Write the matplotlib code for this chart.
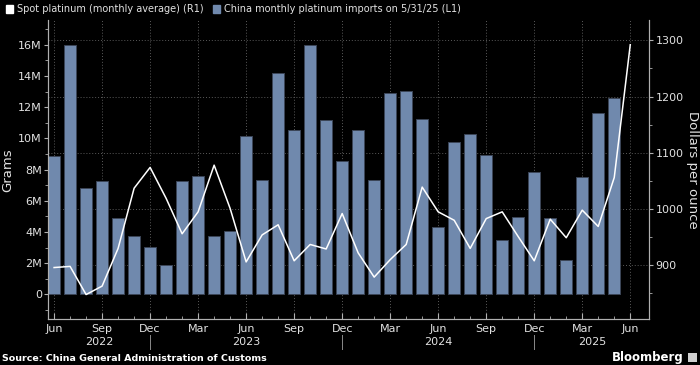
import numpy as np
import pandas as pd
import matplotlib
matplotlib.use('Agg')
import matplotlib.pyplot as plt
from matplotlib.patches import Patch
from matplotlib.lines import Line2D
from matplotlib.transforms import blended_transform_factory

# monthly data, Jun 2022 .. Jun 2025
months = pd.date_range('2022-06-01', '2025-06-01', freq='MS')

# China monthly platinum imports (grams, millions), Jun 2022 .. May 2025
imports_m = [8.87, 15.98, 6.83, 7.27, 4.89, 3.75, 3.03, 1.86, 7.25, 7.57, 3.75, 4.07,
             10.15, 7.32, 14.17, 10.54, 15.96, 11.16, 8.55, 10.52, 7.32, 12.9, 13.03, 11.22,
             4.33, 9.77, 10.26, 8.94, 3.5, 4.97, 7.85, 4.9, 2.2, 7.53, 11.6, 12.59]

# spot platinum monthly average (USD/oz), Jun 2022 .. Jun 2025
spot = [896, 898, 848, 863, 930, 1037, 1074, 1019, 956, 995, 1078, 1001,
        906, 954, 972, 908, 937, 929, 992, 922, 879, 910, 937, 1039,
        995, 980, 930, 983, 995, 951, 908, 982, 949, 998, 969, 1056,
        1292]

left_ticks = [0, 2, 4, 6, 8, 10, 12, 14, 16]
left_labels = ['0', '2M', '4M', '6M', '8M', '10M', '12M', '14M', '16M']
right_ticks = [900, 1000, 1100, 1200, 1300]

BG = 'black'
BAR = '#7089ad'
TXT = '#e2e2e2'
GRID = '#5a5a5a'
SPINE = '#b0b0b0'

W, H = 700, 365
fig = plt.figure(figsize=(W / 100, H / 100), dpi=100, facecolor=BG)

x0, x1, ytop, ybot = 48, 649.3, 20, 319.3
ax = fig.add_axes([x0 / W, 1 - ybot / H, (x1 - x0) / W, (ybot - ytop) / H])
ax.set_facecolor(BG)
ax2 = ax.twinx()

pos = np.arange(len(months))
xlim = (-0.38, 37.19)

ax.bar(pos[:len(imports_m)], imports_m, width=0.73, color=BAR, edgecolor='#3c4658',
       linewidth=0.7, zorder=2)
ax2.plot(pos, spot, color='white', linewidth=1.1, zorder=3)

ax.set_xlim(*xlim)
ax.set_ylim(-1.59, 17.58)
ax2.set_ylim(804, 1336)

# gridlines (drawn behind the bars)
for p in pos[::3]:
    ax.axvline(p, color=GRID, linestyle=(0, (1, 2)), linewidth=0.7, zorder=0)
tr = blended_transform_factory(ax.transAxes, ax2.transData)
for v in right_ticks:
    ax.add_line(Line2D([0, 1], [v, v], transform=tr, color=GRID,
                       linestyle=(0, (1, 2)), linewidth=0.7, zorder=0))

# x axis
ax.set_xticks(pos[::3])
ax.set_xticklabels(months[::3].strftime('%b'))
ax.set_xticks(pos, minor=True)
ax.tick_params(axis='x', which='major', direction='in', length=4, pad=3.5,
               colors=SPINE, labelcolor=TXT, labelsize=8)
ax.tick_params(axis='x', which='minor', direction='in', length=2.5, colors=SPINE)

# year labels + separators
xt = blended_transform_factory(ax.transData, ax.transAxes)
dec = list(pos[months.month == 12])
bounds = [xlim[0]] + dec + [xlim[1]]
years = sorted(set(months.year))
for i, yr in enumerate(years):
    ax.text((bounds[i] + bounds[i + 1]) / 2, -0.075, str(yr), transform=xt,
            ha='center', va='center', color=TXT, fontsize=8, clip_on=False)
for d in dec:
    ax.add_line(Line2D([d, d], [-0.052, -0.099], transform=xt, color='#8a8a8a',
                       linewidth=0.7, clip_on=False))

# y axes
ax.set_yticks(left_ticks)
ax.set_yticklabels(left_labels)
ax.set_yticks(np.arange(-1, 18, 1), minor=True)
ax.tick_params(axis='y', which='major', direction='out', length=3, pad=1.5,
               colors=SPINE, labelcolor=TXT, labelsize=8)
ax.tick_params(axis='y', which='minor', direction='out', length=2, colors=SPINE)

ax2.set_yticks(right_ticks)
ax2.set_yticks(np.arange(850, 1336, 50), minor=True)
ax2.tick_params(axis='y', which='major', direction='out', length=3, pad=1.5,
                colors=SPINE, labelcolor=TXT, labelsize=8)
ax2.tick_params(axis='y', which='minor', direction='out', length=2, colors=SPINE)

for a in (ax, ax2):
    a.spines['top'].set_visible(False)
    for s in ('left', 'right', 'bottom'):
        a.spines[s].set_color(SPINE)
        a.spines[s].set_linewidth(0.8)

fig.text(8 / W, 1 - 170 / H, 'Grams', rotation=90, ha='center', va='center',
         color=TXT, fontsize=9.5)
fig.text(693 / W, 1 - 170 / H, 'Dollars per ounce', rotation=270, ha='center',
         va='center', color=TXT, fontsize=9.5)

# legend
handles = [Patch(facecolor='white', edgecolor='white'),
           Patch(facecolor=BAR, edgecolor=BAR)]
fig.legend(handles, ['Spot platinum (monthly average) (R1)',
                     'China monthly platinum imports on 5/31/25 (L1)'],
           loc='upper left', bbox_to_anchor=(0.0, 1.004), ncol=2, frameon=False,
           fontsize=7, labelcolor=TXT, handlelength=0.75, handleheight=0.75,
           handletextpad=0.35, columnspacing=1.0, borderaxespad=0.2)

fig.text(2 / W, 1 - 358.5 / H, 'Source: China General Administration of Customs',
         ha='left', va='center', color='white', fontsize=6.8, fontweight='bold')
fig.text(684 / W, 1 - 357 / H, 'Bloomberg', ha='right', va='center',
         color='white', fontsize=8.5, fontweight='bold')
fig.patches.append(plt.Rectangle((688 / W, 1 - 362 / H), 9 / W, 9 / H,
                                 transform=fig.transFigure, facecolor='#cfcfcf',
                                 edgecolor='none'))

fig.savefig('out.png', dpi=100, facecolor=BG)
